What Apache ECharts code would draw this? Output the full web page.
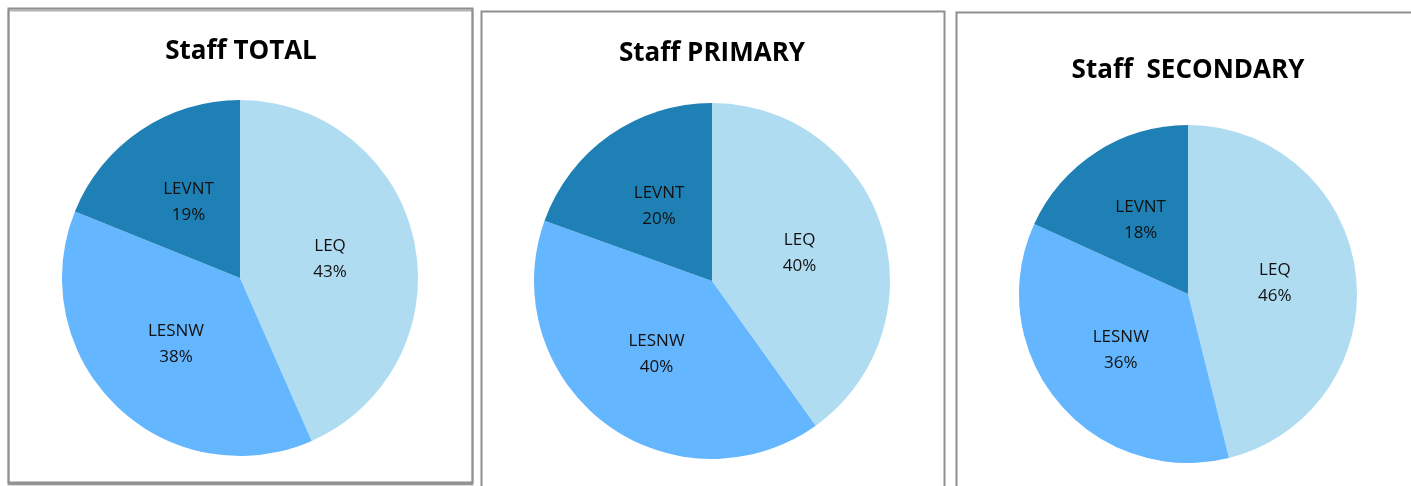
<!DOCTYPE html>
<html>
<head>
<meta charset="utf-8">
<title>Staff pies</title>
<script src="https://cdn.jsdelivr.net/npm/echarts@6/dist/echarts.min.js"></script>
<style>
  html, body { margin: 0; padding: 0; background: #fff; }
  #container { width: 1411px; height: 486px; }
</style>
</head>
<body>
<div id="container"></div>
<script>
var categories = ["LEQ", "LESNW", "LEVNT"];
var colors = ["#B0DCF2", "#64B6FE", "#1E80B5"];
var titles = ["Staff TOTAL", "Staff PRIMARY", "Staff  SECONDARY"];
// shares (labels show them rounded)
var totalValues = [43.4, 37.7, 18.9];
var primaryValues = [40.1, 40.4, 19.5];
var secondaryValues = [46.1, 35.7, 18.2];

(function() {
  var dom = document.getElementById("container");
  var myChart = echarts.init(dom);
  var option = null;

  // panel layout: frame box, title centre/top, pie centre + radius
  var panels = [
    { box: [8.5, 8.5, 464, 474], tx: 236, ty: 34, c: [240, 278], r: 178, values: totalValues },
    { box: [481.5, 11.5, 463, 500], tx: 707, ty: 36, c: [712, 281], r: 178, values: primaryValues },
    { box: [956.5, 12.5, 500, 500], tx: 1183, ty: 53, c: [1188, 294], r: 169, values: secondaryValues }
  ];

  function makeData(values) {
    return categories.map(function(name, i) {
      return { name: name, value: values[i], itemStyle: { color: colors[i] } };
    });
  }

  option = {
    backgroundColor: "#fff",
    animation: false,
    title: panels.map(function(p, i) {
      return {
        text: titles[i],
        left: p.tx,
        top: p.ty,
        textAlign: "center",
        textStyle: { fontFamily: "Open Sans", fontWeight: "bold", fontSize: 26, color: "#000" }
      };
    }),
    graphic: panels.map(function(p, i) {
      return {
        type: "rect",
        silent: true,
        z: -1,
        shape: { x: p.box[0], y: p.box[1], width: p.box[2], height: p.box[3] },
        style: {
          fill: "#fff",
          stroke: "#8f8f8f",
          lineWidth: 2,
          shadowBlur: 0,
          shadowOffsetY: i === 0 ? 2 : 0,
          shadowColor: i === 0 ? "rgba(0,0,0,0.3)" : "transparent"
        }
      };
    }),
    series: panels.map(function(p, i) {
      return {
        name: titles[i],
        type: "pie",
        center: p.c,
        radius: p.r,
        startAngle: 90,
        clockwise: true,
        percentPrecision: 0,
        label: {
          show: true,
          position: "inside",
          formatter: "{b}\n{d}%",
          fontFamily: "Open Sans",
          fontSize: 17,
          lineHeight: 26,
          color: "#111"
        },
        labelLine: { show: false },
        itemStyle: { borderWidth: 0 },
        emphasis: { disabled: true },
        data: makeData(p.values)
      };
    })
  };

  if (option && typeof option === "object") {
    myChart.setOption(option, true);
  }
})();
</script>
</body>
</html>
